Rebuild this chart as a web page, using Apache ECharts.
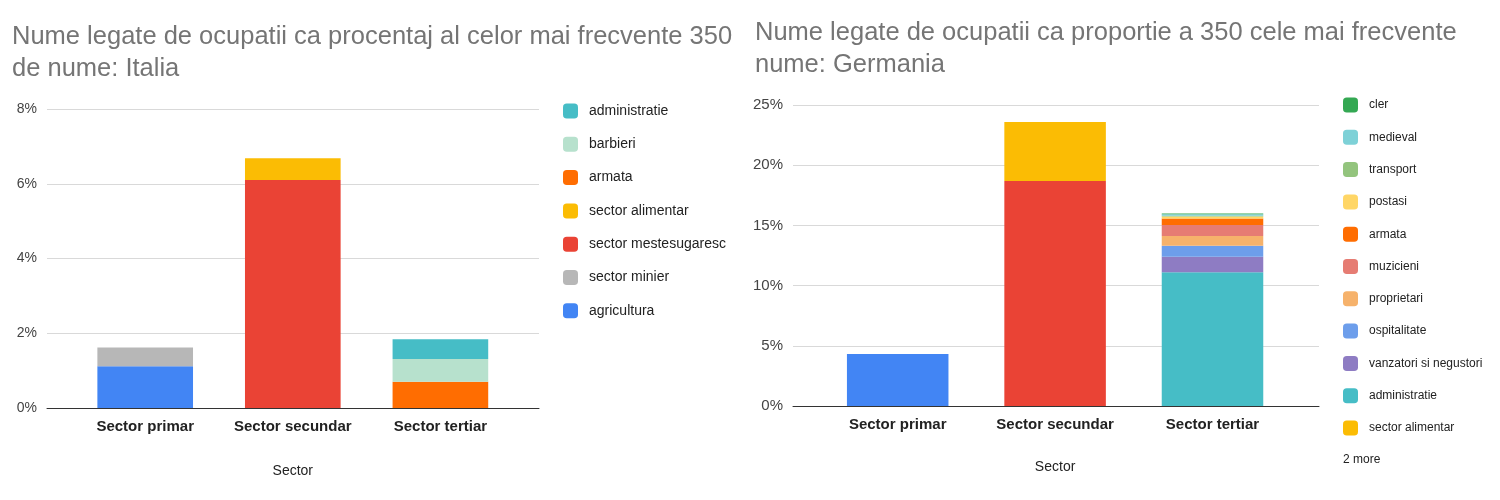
<!DOCTYPE html>
<html><head><meta charset="utf-8">
<script src="https://cdn.jsdelivr.net/npm/echarts@6/dist/echarts.min.js"></script>
<style>html,body{margin:0;padding:0;background:#fff}#c{width:1500px;height:500px}</style>
</head><body><div id="c"></div>
<script>
// ---- data ----
const categories = ['Sector primar', 'Sector secundar', 'Sector tertiar'];
const titleItalia = 'Nume legate de ocupatii ca procentaj al celor mai frecvente 350\nde nume: Italia';
const titleGermania = 'Nume legate de ocupatii ca proportie a 350 cele mai frecvente\nnume: Germania';
const axisTitle = 'Sector';

const itTicksMax = 8, itTickStep = 2;
const deTicksMax = 25, deTickStep = 5;

// Italia (percent), stacking order bottom -> top
const itNames = ['agricultura', 'sector minier', 'sector mestesugaresc', 'sector alimentar', 'armata', 'barbieri', 'administratie'];
const itAgricultura   = [1.12, null, null];
const itMinier        = [0.50, null, null];
const itMestesugaresc = [null, 6.10, null];
const itAlimentar     = [null, 0.58, null];
const itArmata        = [null, null, 0.70];
const itBarbieri      = [null, null, 0.61];
const itAdministratie = [null, null, 0.53];
const itValues = [itAgricultura, itMinier, itMestesugaresc, itAlimentar, itArmata, itBarbieri, itAdministratie];

// Germania (percent), stacking order bottom -> top
const deNames = ['agricultura', 'sector mestesugaresc', 'sector alimentar', 'administratie', 'vanzatori si negustori', 'ospitalitate', 'proprietari', 'muzicieni', 'armata', 'postasi', 'transport', 'medieval', 'cler'];
const deAgricultura   = [4.32, null, null];
const deMestesugaresc = [null, 18.69, null];
const deAlimentar     = [null, 4.90, null];
const deAdministratie = [null, null, 11.10];
const deVanzatori     = [null, null, 1.30];
const deOspitalitate  = [null, null, 0.91];
const deProprietari   = [null, null, 0.81];
const deMuzicieni     = [null, null, 0.91];
const deArmata        = [null, null, 0.55];
const dePostasi       = [null, null, 0.15];
const deTransport     = [null, null, 0.08];
const deMedieval      = [null, null, 0.12];
const deCler          = [null, null, 0.05];
const deValues = [deAgricultura, deMestesugaresc, deAlimentar, deAdministratie, deVanzatori, deOspitalitate, deProprietari, deMuzicieni, deArmata, dePostasi, deTransport, deMedieval, deCler];
const deLegendShown = ['cler', 'medieval', 'transport', 'postasi', 'armata', 'muzicieni', 'proprietari', 'ospitalitate', 'vanzatori si negustori', 'administratie', 'sector alimentar'];
const deMoreText = '2 more';

// ---- styles ----
const colors = {
  'agricultura': '#4285F4',
  'sector minier': '#B7B7B7',
  'sector mestesugaresc': '#EA4335',
  'sector alimentar': '#FBBC04',
  'armata': '#FF6D01',
  'barbieri': '#B7E1CD',
  'administratie': '#46BDC6',
  'vanzatori si negustori': '#8E7CC3',
  'ospitalitate': '#6D9EEB',
  'proprietari': '#F6B26B',
  'muzicieni': '#E67C73',
  'postasi': '#FFD666',
  'transport': '#93C47D',
  'medieval': '#7ED1D7',
  'cler': '#34A853'
};
const FONT = '"Liberation Sans", Arial, sans-serif';

function makeSeries(names, values, idx, stack, gap) {
  return names.map((n, i) => ({
    name: n, type: 'bar', stack: stack,
    xAxisIndex: idx, yAxisIndex: idx,
    barCategoryGap: gap,
    itemStyle: { color: colors[n] },
    emphasis: { disabled: true },
    data: values[i]
  }));
}

// background grid axes: gridlines, y labels, baseline
function bgX(idx) {
  return {
    type: 'category', gridIndex: idx, data: categories,
    axisLine: { lineStyle: { color: '#333', width: 1 } },
    axisTick: { show: false }, axisLabel: { show: false }, splitLine: { show: false }
  };
}
function bgY(idx, max, step, fs) {
  return {
    type: 'value', gridIndex: idx, min: 0, max: max, interval: step,
    axisLine: { show: false }, axisTick: { show: false },
    axisLabel: { color: '#444', fontSize: fs, fontFamily: FONT, margin: 10, formatter: '{value}%' },
    splitLine: { lineStyle: { color: '#D9D9D9', width: 1 } }
  };
}
// bar grid axes
function barX(idx, gapName) {
  return {
    type: 'category', gridIndex: idx, data: categories,
    axisLine: { show: false }, axisTick: { show: false }, splitLine: { show: false },
    axisLabel: { interval: 0, hideOverlap: false, color: '#222', fontSize: 15, fontWeight: 'bold', fontFamily: FONT, margin: 11 },
    name: axisTitle, nameLocation: 'middle', nameGap: gapName,
    nameTextStyle: { color: '#222', fontSize: 14, fontFamily: FONT }
  };
}
function barY(idx, max, step) {
  return { type: 'value', gridIndex: idx, min: 0, max: max, interval: step, show: false, splitLine: { show: false } };
}

const chart = echarts.init(document.getElementById('c'), null, { renderer: 'canvas' });
chart.setOption({
  animation: false,
  backgroundColor: '#fff',
  title: [
    { text: titleItalia, left: 7, top: 16, textStyle: { color: '#757575', fontSize: 25.5, fontWeight: 'normal', fontFamily: FONT, lineHeight: 32 } },
    { text: titleGermania, left: 750, top: 12, textStyle: { color: '#757575', fontSize: 25.5, fontWeight: 'normal', fontFamily: FONT, lineHeight: 32 } }
  ],
  grid: [
    { left: 47, right: 961, top: 109, bottom: 92 },
    { left: 71.4, right: 985.8, top: 109, bottom: 92 },
    { left: 793, right: 181, top: 105, bottom: 94 },
    { left: 819, right: 208.8, top: 105, bottom: 94 }
  ],
  xAxis: [bgX(0), barX(1, 56), bgX(2), barX(3, 54)],
  yAxis: [bgY(0, itTicksMax, itTickStep, 14), barY(1, itTicksMax, itTickStep), bgY(2, deTicksMax, deTickStep, 15), barY(3, deTicksMax, deTickStep)],
  legend: [
    {
      data: itNames.slice().reverse(), orient: 'vertical', left: 563, top: 103.5, padding: 0,
      itemWidth: 15, itemHeight: 15, itemGap: 18.3, icon: 'roundRect', selectedMode: false,
      textStyle: { color: '#222', fontSize: 14, fontFamily: FONT, padding: [0, 0, 0, 6] }
    },
    {
      data: deLegendShown, orient: 'vertical', left: 1343, top: 97.5, padding: 0,
      itemWidth: 15, itemHeight: 15, itemGap: 17.3, icon: 'roundRect', selectedMode: false,
      textStyle: { color: '#222', fontSize: 12, fontFamily: FONT, padding: [0, 0, 0, 6] }
    }
  ],
  graphic: [
    { type: 'text', left: 1343, top: 454, style: { text: deMoreText, fill: '#222', font: '12px ' + FONT } }
  ],
  series: [].concat(makeSeries(itNames, itValues, 1, 'it', '35.2%'), makeSeries(deNames, deValues, 3, 'de', '35.5%'))
});
</script></body></html>
